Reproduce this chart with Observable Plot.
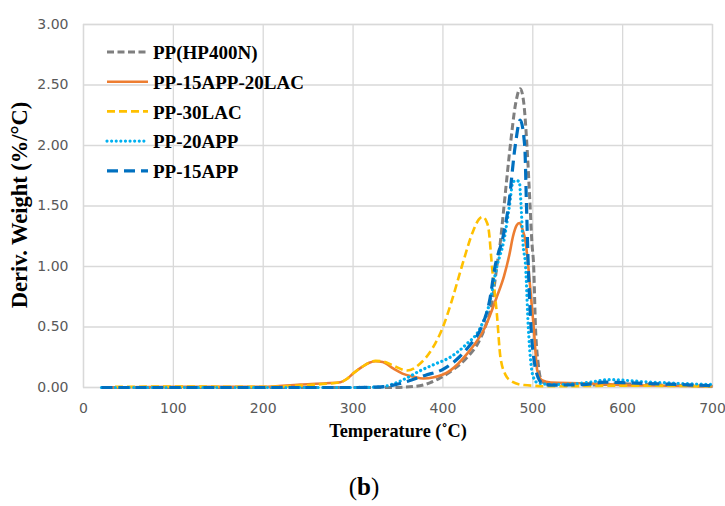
<!DOCTYPE html>
<html><head><meta charset="utf-8">
<script src="https://cdn.jsdelivr.net/npm/d3@7"></script>
<script src="https://cdn.jsdelivr.net/npm/@observablehq/plot@0.6"></script>
<style>body{margin:0;background:#fff}#chart{width:725px;height:506px}</style>
</head><body><div id="chart"></div>
<script>
const seriesNames = ["PP(HP400N)", "PP-15APP-20LAC", "PP-30LAC", "PP-20APP", "PP-15APP"];
const seriesColors = ["#7f7f7f", "#ed7d31", "#ffc000", "#00b0f0", "#0070c0"];
const xTicks = [0, 100, 200, 300, 400, 500, 600, 700];
const yTicks = [0, 0.5, 1, 1.5, 2, 2.5, 3];

const tempPP = [20,100,200,300,340,370,386,397,410,427,440,447,455,460,464,468,475,481,486,490,493.5,497,499,501,503,506,510,520,560,600,650,700];
const valPP  = [0,0,0,0,0,0.01,0.04,0.08,0.14,0.25,0.38,0.5,0.72,1.0,1.21,1.5,2.0,2.35,2.47,2.35,2.0,1.5,1.2,1.0,0.5,0.2,0.05,0.025,0.02,0.03,0.02,0.01];

const tempAL = [20,100,200,241,270,286,293,300,310,318,325,333,345,355,367,378,390,408,427,447,460,468,474,478,482,485,488,492,495,498,501,505,510,520,560,600,650,700];
const valAL  = [0,0.005,0.005,0.025,0.035,0.044,0.07,0.115,0.17,0.205,0.217,0.21,0.155,0.115,0.09,0.074,0.085,0.14,0.28,0.5,0.75,0.92,1.1,1.25,1.34,1.36,1.32,1.2,1.0,0.75,0.5,0.14,0.06,0.04,0.035,0.02,0.015,0.01];

const tempLAC = [35,100,200,230,260,286,293,300,310,318,325,333,345,360,375,388,400,410,421,434,440,444,448,451,454.6,460,464,470,475,490,520,600,700];
const valLAC  = [0.005,0.008,0.005,0.012,0.025,0.044,0.07,0.115,0.17,0.205,0.22,0.215,0.18,0.14,0.2,0.32,0.5,0.72,1.0,1.3,1.39,1.41,1.38,1.3,1.0,0.61,0.25,0.1,0.058,0.02,0.01,0.015,0.01];

const tempA20 = [20,100,200,300,330,345,360,375,390,408,425,442,452,460,468,474,478,482,485,487,489,492,495,500,505,520,560,586,620,660,700];
const valA20  = [0,0,0,0,0.005,0.03,0.08,0.14,0.19,0.25,0.35,0.5,0.7,1.0,1.22,1.5,1.7,1.71,1.7,1.5,1.2,1.0,0.5,0.1,0.04,0.025,0.04,0.065,0.05,0.035,0.025];

const tempA15 = [20,100,200,300,330,345,360,380,400,418,430,443,452,458,467,473,480.5,486,491,493,495,498,502,505,510,520,560,580,600,640,700];
const valA15  = [0,0,0,0,0.005,0.02,0.05,0.1,0.15,0.25,0.35,0.5,0.72,1.0,1.25,1.5,2.0,2.21,2.0,1.5,1.0,0.5,0.2,0.1,0.04,0.02,0.025,0.045,0.04,0.03,0.015];

const temps = [tempPP, tempAL, tempLAC, tempA20, tempA15];
const vals = [valPP, valAL, valLAC, valA20, valA15];
const dashes = ["7,3.5", null, "8,4", "0.01,4.6", "11,6"];
const widths = [3, 2.6, 2.6, 3.2, 3.2];
const caps = ["butt", "butt", "butt", "round", "butt"];

const table = seriesNames.map((name, i) => temps[i].map((t, j) => ({series: name, t, v: vals[i][j]})));

const lineMarks = table.map((rows, i) => Plot.line(rows, {
  x: "t", y: "v", stroke: seriesColors[i], strokeWidth: widths[i],
  strokeDasharray: dashes[i], strokeLinecap: caps[i], curve: "monotone-x"
}));

const chart = Plot.plot({
  width: 725, height: 506,
  marginLeft: 83, marginRight: 13, marginTop: 24, marginBottom: 119,
  style: {background: "#fff", fontFamily: "DejaVu Sans", fontSize: "14px", overflow: "visible"},
  x: {domain: [0, 700], label: null},
  y: {domain: [0, 3], label: null},
  marks: [
    Plot.gridX(xTicks, {stroke: "#d9d9d9", strokeOpacity: 1, strokeWidth: 1.3}),
    Plot.gridY(yTicks, {stroke: "#d9d9d9", strokeOpacity: 1, strokeWidth: 1.3}),
    Plot.frame({stroke: "#d9d9d9", strokeWidth: 1.3}),
    Plot.axisX(xTicks, {tickSize: 0, tickPadding: 16, fill: "#595959", tickFormat: d => String(d), fontSize: 14}),
    Plot.axisY(yTicks, {tickSize: 0, tickPadding: 15, fill: "#595959", tickFormat: d => d.toFixed(2), fontSize: 14}),
    ...lineMarks
  ]
});
document.getElementById("chart").appendChild(chart);

const svg = d3.select(chart);
const serif = "'Liberation Serif', 'Times New Roman', serif";
// axis titles
svg.append("text").attr("x", 398).attr("y", 437).attr("text-anchor", "middle")
  .style("font-family", serif).style("font-weight", "bold").style("font-size", "18.3px").attr("fill", "#000")
  .text("Temperature (˚C)");
svg.append("text").attr("transform", "translate(27,205) rotate(-90)").attr("text-anchor", "middle")
  .style("font-family", serif).style("font-weight", "bold").style("font-size", "22.5px").attr("fill", "#000")
  .text("Deriv. Weight (%/°C)");
// caption
const cap = svg.append("text").attr("x", 364).attr("y", 495).attr("text-anchor", "middle")
  .style("font-family", serif).style("font-size", "25px").attr("fill", "#000");
cap.append("tspan").text("(");
cap.append("tspan").style("font-weight", "bold").text("b");
cap.append("tspan").text(")");
// legend
const lg = svg.append("g").attr("text-anchor", "start");
seriesNames.forEach((name, i) => {
  const y = 52 + i * 29.7;
  lg.append("line").attr("x1", 107).attr("x2", 148).attr("y1", y).attr("y2", y)
    .attr("stroke", seriesColors[i]).attr("stroke-width", widths[i])
    .attr("stroke-dasharray", dashes[i]).attr("stroke-linecap", caps[i]);
  lg.append("text").attr("x", 153).attr("y", y + 7.3).attr("text-anchor", "start")
    .style("font-family", serif).style("font-weight", "bold").style("font-size", "19px").attr("fill", "#000")
    .text(name);
});
</script></body></html>
